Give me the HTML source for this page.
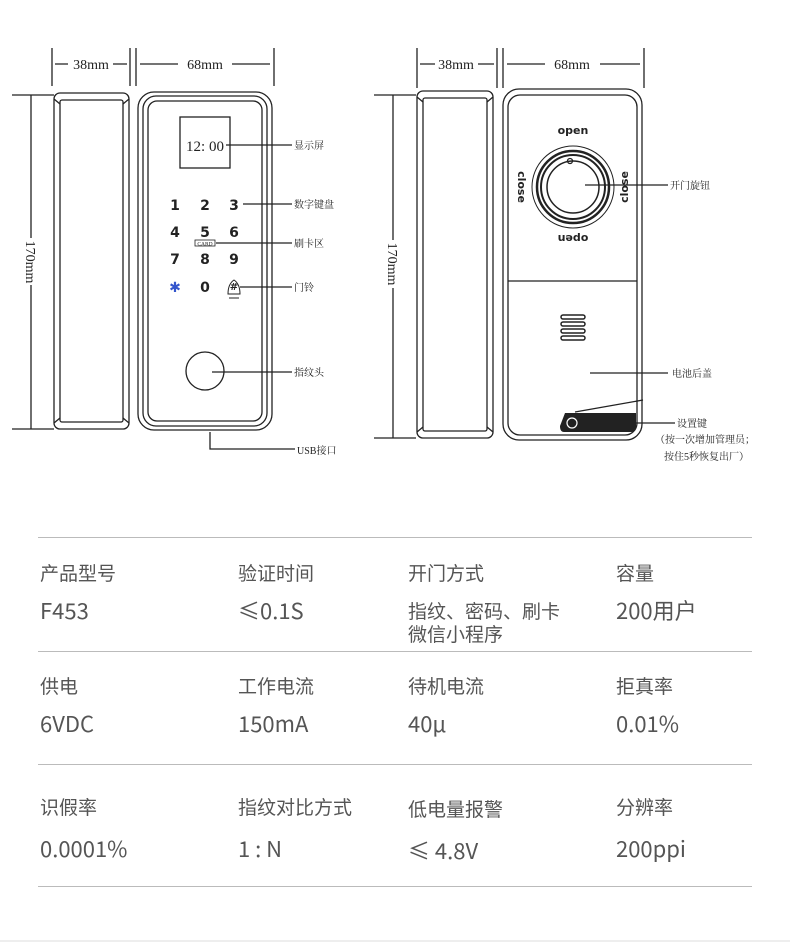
<!DOCTYPE html>
<html><head><meta charset="utf-8"><style>
body{margin:0;background:#fff;width:790px;height:942px;position:relative;overflow:hidden;font-family:"Noto Sans CJK SC","Liberation Sans",sans-serif}
svg{position:absolute;left:0;top:0}
.t{position:absolute;color:#555;white-space:nowrap;line-height:1.2}
.l{font-size:19px}
.v{font-size:22px;color:#555}
.hr{position:absolute;left:38px;width:714px;height:1px;background:#bbb}
</style></head><body>
<svg width="790" height="480" viewBox="0 0 790 480" font-family="Liberation Serif,Noto Serif CJK SC,serif">
<g stroke="#222" fill="none" stroke-width="1.3">
<path d="M52 48V86M130 48V86M136 48V86M274 48V86"/>
<path d="M55 64H68M113 64H127M140 64H178M232 64H270"/>
<path d="M12 95H54M12 429H54M31 95V238M31 285V429"/>
<rect x="54" y="93" width="75" height="336" rx="6"/>
<rect x="60" y="100" width="63" height="322" rx="2"/>
<path d="M54 99L60 104M129 99L123 104M54 423L60 418M129 423L123 418"/>
<rect x="138" y="92" width="134" height="338" rx="16"/>
<rect x="143" y="96" width="124" height="330" rx="13"/>
<rect x="148" y="101" width="114" height="320" rx="9"/>
<rect x="180" y="117" width="50" height="51"/>
<circle cx="205" cy="371" r="19"/>
<path d="M226 145H292M243 204H292M216 243H292M240 287H292M212 372H292M210 432V449H295"/>
<path d="M417 48V88M497 48V88M503 48V88M644 48V88"/>
<path d="M420 64H435M478 64H494M507 64H545M600 64H640"/>
<path d="M374 95H416M374 438H416M393 95V240M393 288V438"/>
<rect x="417" y="91" width="76" height="347" rx="6"/>
<rect x="423" y="98" width="64" height="333" rx="2"/>
<path d="M417 97L423 102M493 97L487 102M417 432L423 427M493 432L487 427"/>
<rect x="503" y="89" width="139" height="351" rx="16"/>
<rect x="508" y="95" width="129" height="340" rx="12"/>
<path d="M508 281H637"/>
<circle cx="573" cy="187" r="41" stroke-width="1"/>
<circle cx="573" cy="187" r="36" stroke-width="2.5"/>
<circle cx="573" cy="187" r="32" stroke-width="2"/>
<circle cx="573" cy="187" r="26" stroke-width="1.5"/>
<circle cx="570" cy="161" r="2.5"/>
<path d="M585 185H668M590 373H668M575 412L643 400M572 423H675"/>
</g>
<g fill="none" stroke="#222" stroke-width="1.5">
<rect x="561" y="315" width="24" height="4" rx="2"/><rect x="561" y="322" width="24" height="4" rx="2"/><rect x="561" y="329" width="24" height="4" rx="2"/><rect x="561" y="336" width="24" height="4" rx="2"/>
</g>
<path d="M565 413H636V428Q636 432 630 432H564Q560 432 560 426Z" fill="#222"/>
<circle cx="572" cy="423" r="5" fill="#222" stroke="#fff" stroke-width="1.2"/>
<g fill="#222" font-size="14">
<text x="91" y="69" text-anchor="middle">38mm</text>
<text x="205" y="69" text-anchor="middle">68mm</text>
<text x="456" y="69" text-anchor="middle">38mm</text>
<text x="572" y="69" text-anchor="middle">68mm</text>
<text transform="translate(26 262) rotate(90)" text-anchor="middle">170mm</text>
<text transform="translate(388 264) rotate(90)" text-anchor="middle">170mm</text>
<text x="205" y="151" text-anchor="middle" font-size="15">12: 00</text>
<g font-size="10">
<text x="294" y="149">显示屏</text><text x="294" y="208">数字键盘</text><text x="294" y="247">刷卡区</text><text x="294" y="291">门铃</text><text x="294" y="376">指纹头</text><text x="297" y="454">USB接口</text>
<text x="670" y="189">开门旋钮</text><text x="672" y="377">电池后盖</text><text x="677" y="427">设置键</text>
<text x="655" y="443">（按一次增加管理员；</text><text x="664" y="460">按住5秒恢复出厂）</text>
</g>
</g>
<g font-family="DejaVu Sans,sans-serif" font-weight="bold" font-size="14" fill="#222" text-anchor="middle">
<text x="175" y="210">1</text><text x="205" y="210">2</text><text x="234" y="210">3</text>
<text x="175" y="237">4</text><text x="205" y="237">5</text><text x="234" y="237">6</text>
<text x="175" y="264">7</text><text x="205" y="264">8</text><text x="234" y="264">9</text>
<text x="175" y="292" fill="#3355cc">✱</text><text x="205" y="292">0</text><text x="234" y="290" font-size="10">#</text>
<text x="573" y="134" font-size="11">open</text>
<text transform="translate(573 235) rotate(180)" font-size="11">open</text>
<text transform="translate(518 187) rotate(90)" font-size="11">close</text>
<text transform="translate(628 187) rotate(-90)" font-size="11">close</text>
</g>
<rect x="195" y="240" width="20" height="6" fill="#fff" stroke="#222" stroke-width="0.8"/>
<text x="205" y="245.5" font-size="5.5" text-anchor="middle" fill="#222">CARD</text>
<path d="M228 294Q228 284 234 280Q240 284 240 294Z" fill="none" stroke="#222"/>
<path d="M229 298H239" stroke="#222"/>
</svg>
<div class="hr" style="top:537px"></div>
<div class="hr" style="top:651px"></div>
<div class="hr" style="top:764px"></div>
<div class="hr" style="top:886px"></div>
<div style="position:absolute;left:0;top:940px;width:790px;height:2px;background:#eee"></div>

<div class="t l" style="left:40px;top:562px">产品型号</div>
<div class="t l" style="left:238px;top:562px">验证时间</div>
<div class="t l" style="left:408px;top:562px">开门方式</div>
<div class="t l" style="left:616px;top:562px">容量</div>
<div class="t v" style="left:40px;top:597px">F453</div>
<div class="t v" style="left:238px;top:597px">≤0.1S</div>
<div class="t l" style="left:408px;top:599px;line-height:23px">指纹、密码、刷卡<br>微信小程序</div>
<div class="t v" style="left:616px;top:597px">200用户</div>

<div class="t l" style="left:40px;top:675px">供电</div>
<div class="t l" style="left:238px;top:675px">工作电流</div>
<div class="t l" style="left:408px;top:675px">待机电流</div>
<div class="t l" style="left:616px;top:675px">拒真率</div>
<div class="t v" style="left:40px;top:710px">6VDC</div>
<div class="t v" style="left:238px;top:710px">150mA</div>
<div class="t v" style="left:408px;top:710px">40μ</div>
<div class="t v" style="left:616px;top:710px">0.01%</div>

<div class="t l" style="left:40px;top:796px">识假率</div>
<div class="t l" style="left:238px;top:796px">指纹对比方式</div>
<div class="t l" style="left:408px;top:798px">低电量报警</div>
<div class="t l" style="left:616px;top:796px">分辨率</div>
<div class="t v" style="left:40px;top:835px">0.0001%</div>
<div class="t v" style="left:238px;top:835px">1 : N</div>
<div class="t v" style="left:408px;top:837px">≤ 4.8V</div>
<div class="t v" style="left:616px;top:835px">200ppi</div>
</body></html>
